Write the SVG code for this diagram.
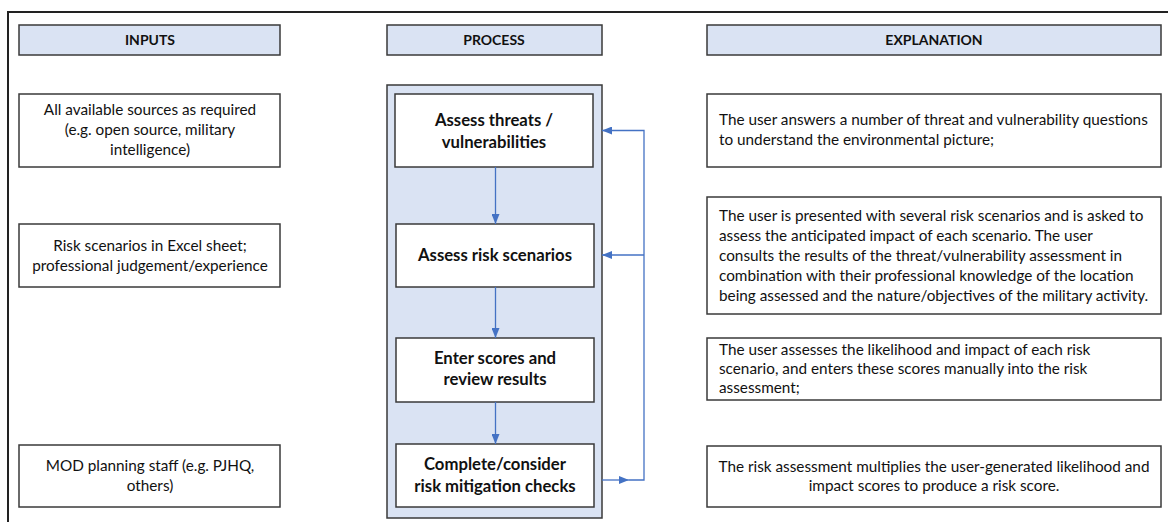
<svg xmlns="http://www.w3.org/2000/svg" width="1168" height="522" viewBox="0 0 1168 522">
<defs>
<style>
.hdr{fill:#dae3f3;stroke:#3a3a3a;stroke-width:1.5}
.box{fill:#ffffff;stroke:#3a3a3a;stroke-width:1.5}
.cont{fill:#dae3f3;stroke:#3a3a3a;stroke-width:1.5}
.ht{font-family:Lato,"Liberation Sans",sans-serif;font-size:14px;font-weight:bold;fill:#111;text-anchor:middle}
.t{font-family:Lato,"Liberation Sans",sans-serif;font-size:15.3px;fill:#111}
.c{text-anchor:middle}
.pt{font-family:Lato,"Liberation Sans",sans-serif;font-size:16.7px;font-weight:bold;fill:#111;text-anchor:middle}
.con{fill:none;stroke:#4472c4;stroke-width:1.3}
</style>
<marker id="ah" markerWidth="10" markerHeight="8" refX="10" refY="4" orient="auto" markerUnits="userSpaceOnUse">
<path d="M0,0 L10,4 L0,8 Z" fill="#4472c4"/>
</marker>
</defs>
<rect x="0" y="0" width="1168" height="522" fill="#ffffff"/>
<rect x="8" y="12" width="1175" height="525" fill="none" stroke="#222" stroke-width="2"/>

<g id="hdr-inputs"><rect class="hdr" x="19" y="25" width="261" height="30"/><text class="ht" x="150" y="45">INPUTS</text></g>
<g id="hdr-process"><rect class="hdr" x="387" y="25" width="215" height="30"/><text class="ht" x="494" y="45">PROCESS</text></g>
<g id="hdr-explanation"><rect class="hdr" x="707" y="25" width="454" height="30"/><text class="ht" x="934" y="45">EXPLANATION</text></g>

<g id="input1"><rect class="box" x="19" y="94" width="261" height="73"/>
<text class="t c" x="150" y="115">All available sources as required</text>
<text class="t c" x="150" y="135">(e.g. open source, military</text>
<text class="t c" x="150" y="155">intelligence)</text></g>
<g id="input2"><rect class="box" x="19" y="224" width="261" height="63"/>
<text class="t c" x="150" y="251">Risk scenarios in Excel sheet;</text>
<text class="t c" x="150" y="271">professional judgement/experience</text></g>
<g id="input3"><rect class="box" x="19" y="445" width="261" height="62"/>
<text class="t c" x="150" y="471">MOD planning staff (e.g. PJHQ,</text>
<text class="t c" x="150" y="491">others)</text></g>

<g id="process-container"><rect class="cont" x="387" y="85" width="215" height="433"/></g>
<g id="step1"><rect class="box" x="395" y="94" width="198" height="73"/>
<text class="pt" x="494" y="126">Assess threats /</text>
<text class="pt" x="494" y="148">vulnerabilities</text></g>
<g id="step2"><rect class="box" x="396" y="224" width="198" height="63"/>
<text class="pt" x="495" y="261">Assess risk scenarios</text></g>
<g id="step3"><rect class="box" x="396" y="338" width="198" height="64"/>
<text class="pt" x="495" y="364">Enter scores and</text>
<text class="pt" x="495" y="385">review results</text></g>
<g id="step4"><rect class="box" x="396" y="444" width="198" height="63"/>
<text class="pt" x="495" y="470">Complete/consider</text>
<text class="pt" x="495" y="492">risk mitigation checks</text></g>

<g id="expl1"><rect class="box" x="707" y="94" width="454" height="73"/>
<text class="t" x="719" y="125">The user answers a number of threat and vulnerability questions</text>
<text class="t" x="719" y="145">to understand the environmental picture;</text></g>
<g id="expl2"><rect class="box" x="707" y="197" width="454" height="117"/>
<text class="t" x="719" y="221">The user is presented with several risk scenarios and is asked to</text>
<text class="t" x="719" y="241">assess the anticipated impact of each scenario. The user</text>
<text class="t" x="719" y="261">consults the results of the threat/vulnerability assessment in</text>
<text class="t" x="719" y="281">combination with their professional knowledge of the location</text>
<text class="t" x="719" y="301">being assessed and the nature/objectives of the military activity.</text></g>
<g id="expl3"><rect class="box" x="707" y="338" width="454" height="62"/>
<text class="t" x="719" y="355">The user assesses the likelihood and impact of each risk</text>
<text class="t" x="719" y="374">scenario, and enters these scores manually into the risk</text>
<text class="t" x="719" y="393">assessment;</text></g>
<g id="expl4"><rect class="box" x="707" y="446" width="454" height="61"/>
<text class="t c" x="934" y="472">The risk assessment multiplies the user-generated likelihood and</text>
<text class="t c" x="934" y="491">impact scores to produce a risk score.</text></g>

<g id="connectors">
<path class="con" d="M495.5,167 V224" marker-end="url(#ah)"/>
<path class="con" d="M495.5,287 V338" marker-end="url(#ah)"/>
<path class="con" d="M495.5,402 V444" marker-end="url(#ah)"/>
<path class="con" d="M602,480 H629" marker-end="url(#ah)"/>
<path class="con" d="M629,480 H644 V130.5 H602" marker-end="url(#ah)"/>
<path class="con" d="M644,255 H602" marker-end="url(#ah)"/>
</g>
</svg>
